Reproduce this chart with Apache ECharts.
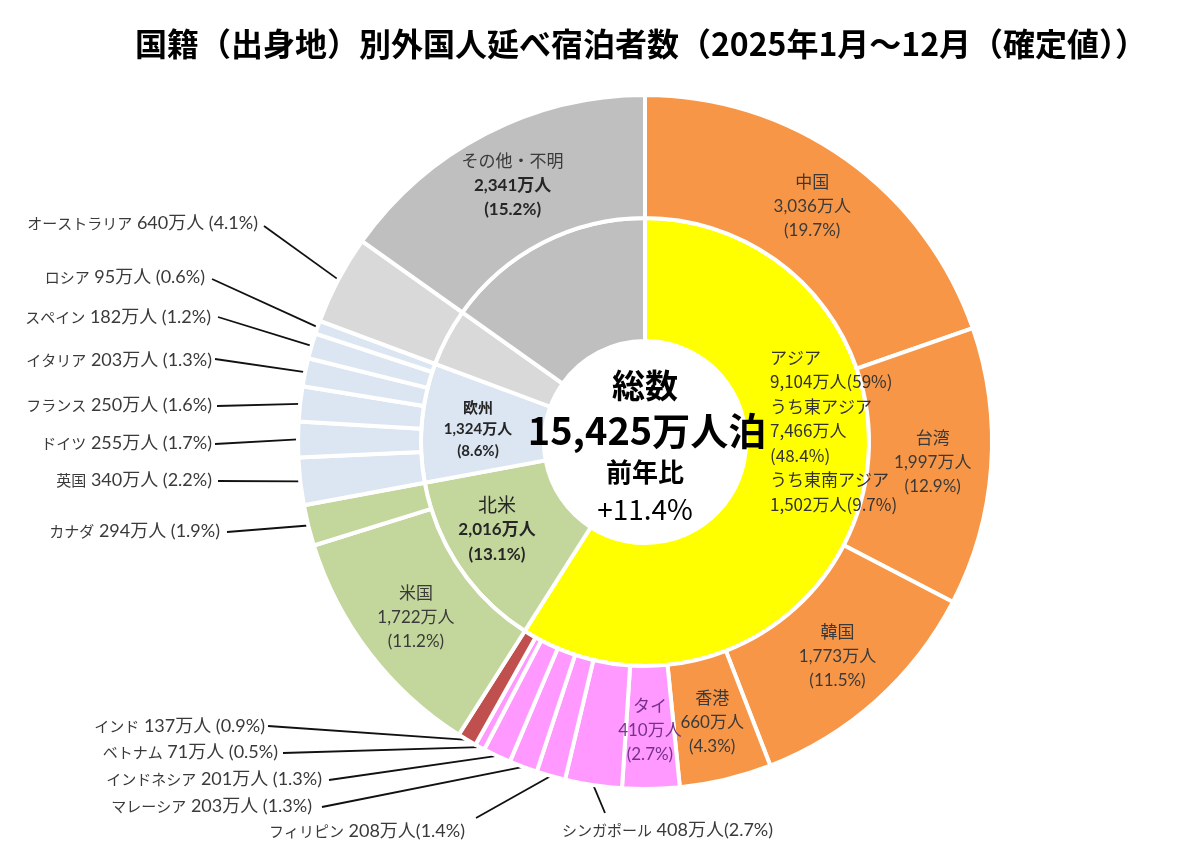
<!DOCTYPE html>
<html>
<head>
<meta charset="utf-8">
<script src="https://cdn.jsdelivr.net/npm/echarts@6/dist/echarts.min.js"></script>
<style>
html,body{margin:0;padding:0;background:#fff;}
#c{width:1178px;height:852px;}
</style>
</head>
<body>
<div id="c"></div>
<script>
// ---------------- DATA ----------------
const titleText = '国籍（出身地）別外国人延べ宿泊者数（2025年1月～12月（確定値））';

const innerNames  = ['アジア', '北米', '欧州', 'オセアニア', 'その他・不明'];
const innerValues = [9104, 2016, 1324, 640, 2341];
const innerPct    = [59, 13.1, 8.6, 4.1, 15.2];

const eastAsiaValue = 7466, eastAsiaPct = 48.4;
const seAsiaValue = 1502, seAsiaPct = 9.7;

const outerNames  = ['中国', '台湾', '韓国', '香港', 'タイ', 'シンガポール', 'フィリピン', 'マレーシア', 'インドネシア', 'ベトナム', 'インド',
                     '米国', 'カナダ', '英国', 'ドイツ', 'フランス', 'イタリア', 'スペイン', 'ロシア', 'オーストラリア', 'その他・不明'];
const outerValues = [3036, 1997, 1773, 660, 410, 408, 208, 203, 201, 71, 137,
                     1722, 294, 340, 255, 250, 203, 182, 95, 640, 2341];
const outerPct    = [19.7, 12.9, 11.5, 4.3, 2.7, 2.7, 1.4, 1.3, 1.3, 0.5, 0.9,
                     11.2, 1.9, 2.2, 1.7, 1.6, 1.3, 1.2, 0.6, 4.1, 15.2];
const outerGroup  = ['東アジア', '東アジア', '東アジア', '東アジア', '東南アジア', '東南アジア', '東南アジア', '東南アジア', '東南アジア', '東南アジア', '南アジア',
                     '北米', '北米', '欧州', '欧州', '欧州', '欧州', '欧州', '欧州', 'オセアニア', 'その他・不明'];

const totalValue = 15425;
const yoyText = '+11.4%';

// ---------------- STYLE / LAYOUT ----------------
const CX = 645, CY = 442;
const R0 = 101, R1 = 224, R2 = 347;
const JP = '"Noto Sans CJK JP", "Noto Sans CJK SC", sans-serif';
const LAT = 'Lato, "Noto Sans CJK JP", sans-serif';

const groupColor = {
  '東アジア': '#F79646', '東南アジア': '#FF99FF', '南アジア': '#C0504D',
  '北米': '#C3D69B', '欧州': '#DCE6F2', 'オセアニア': '#D9D9D9', 'その他・不明': '#BFBFBF'
};
const innerColor = ['#FFFF00', '#C3D69B', '#DCE6F2', '#D9D9D9', '#BFBFBF'];

const insideOuter = new Set(['中国', '台湾', '韓国', '香港', 'タイ', '米国', 'その他・不明']);
const noSpaceBeforePct = new Set(['フィリピン', 'シンガポール']);

// label anchor (x, y), alignment and where the leader line meets the label
const leaderPos = {
  'オーストラリア': {x: 258, y: 223, align: 'right', ex: 6, ey: 3},
  'ロシア':         {x: 205, y: 277, align: 'right', ex: 7, ey: 2},
  'スペイン':       {x: 211, y: 317, align: 'right', ex: 7, ey: 0},
  'イタリア':       {x: 212, y: 360, align: 'right', ex: 3, ey: -1},
  'フランス':       {x: 212, y: 405, align: 'right', ex: 5, ey: 1},
  'ドイツ':         {x: 212, y: 443, align: 'right', ex: 3, ey: 1},
  '英国':           {x: 212, y: 480, align: 'right', ex: 6, ey: 1},
  'カナダ':         {x: 220, y: 531, align: 'right', ex: 7, ey: 1},
  'インド':         {x: 265, y: 726, align: 'right', ex: 3, ey: 0},
  'ベトナム':       {x: 278, y: 752, align: 'right', ex: 5, ey: 1},
  'インドネシア':   {x: 322, y: 779, align: 'right', ex: 7, ey: 1},
  'マレーシア':     {x: 312, y: 806, align: 'right', ex: 10, ey: 1},
  'フィリピン':     {x: 465, y: 831, align: 'right', ex: 11, ey: -13},
  'シンガポール':   {x: 562, y: 830, align: 'left', ex: 43, ey: -17}
};

const fmt = v => v.toLocaleString('en-US');

const outerData = outerNames.map((name, i) => {
  const item = {
    name: name,
    value: outerValues[i],
    itemStyle: {color: groupColor[outerGroup[i]]}
  };
  if (insideOuter.has(name)) {
    let text;
    if (name === 'その他・不明') {
      text = '{a|' + name + '}\n{b|' + fmt(outerValues[i]) + '万人}\n{b|(' + outerPct[i] + '%)}';
    } else {
      text = '{a|' + name + '}\n{a|' + fmt(outerValues[i]) + '万人}\n{a|(' + outerPct[i] + '%)}';
    }
    const col = name === 'タイ' ? '#76308c' : '#3a3a3a';
    item.label = {
      show: true, position: 'inside', rotate: 0, formatter: text,
      rich: {
        a: {fontSize: 17, lineHeight: 24, color: col, fontFamily: LAT, align: 'center'},
        b: {fontSize: 17, lineHeight: 24, color: '#262626', fontFamily: LAT, fontWeight: 'bold', align: 'center'}
      }
    };
  } else {
    const sep = noSpaceBeforePct.has(name) ? '' : ' ';
    item.label = {
      show: true, position: 'outside',
      formatter: '{n|' + name + '}{v| ' + fmt(outerValues[i]) + '万人' + sep + '(' + outerPct[i] + '%)}',
      rich: {
        n: {fontSize: 15, color: '#3a3a3a', fontFamily: JP},
        v: {fontSize: 18, color: '#3a3a3a', fontFamily: LAT}
      }
    };
    item.labelLine = {show: true, length: 5, length2: 5, smooth: false,
      lineStyle: {color: '#111', width: 1.8}};
  }
  return item;
});

const asiaText = [
  innerNames[0],
  fmt(innerValues[0]) + '万人(' + innerPct[0] + '%)',
  'うち東アジア',
  fmt(eastAsiaValue) + '万人',
  '(' + eastAsiaPct + '%)',
  'うち東南アジア',
  fmt(seAsiaValue) + '万人(' + seAsiaPct + '%)'
].join('\n');

const innerData = innerNames.map((name, i) => {
  const item = {name: name, value: innerValues[i], itemStyle: {color: innerColor[i]}};
  if (name === 'アジア') {
    item.label = {show: true, position: 'inside', rotate: 0, formatter: asiaText,
      fontSize: 17, lineHeight: 24.5, color: '#333', fontFamily: JP, align: 'left'};
  } else if (name === '北米') {
    item.label = {show: true, position: 'inside', rotate: 0,
      formatter: '{h|' + name + '}\n{b|' + fmt(innerValues[i]) + '万人}\n{b|(' + innerPct[i] + '%)}',
      rich: {
        h: {fontSize: 19, lineHeight: 25, color: '#262626', fontFamily: JP, align: 'center'},
        b: {fontSize: 17, lineHeight: 25, color: '#262626', fontFamily: LAT, fontWeight: 'bold', align: 'center'}
      }};
  } else if (name === '欧州') {
    item.label = {show: true, position: 'inside', rotate: 0,
      formatter: '{h|' + name + '}\n{b|' + fmt(innerValues[i]) + '万人}\n{b|(' + innerPct[i] + '%)}',
      rich: {
        h: {fontSize: 15, lineHeight: 22, color: '#262626', fontFamily: JP, fontWeight: 'bold', align: 'center'},
        b: {fontSize: 15, lineHeight: 22, color: '#262626', fontFamily: LAT, fontWeight: 'bold', align: 'center'}
      }};
  } else {
    item.label = {show: false};
  }
  return item;
});

const chart = echarts.init(document.getElementById('c'), null, {renderer: 'canvas'});

chart.setOption({
  backgroundColor: '#ffffff',
  animation: false,
  graphic: [
    {type: 'text', x: 641, y: 44, style: {text: titleText, fontSize: 32, fontWeight: 'bold', fontFamily: JP, fill: '#000', align: 'center', verticalAlign: 'middle'}},
    {type: 'text', x: CX, y: 385, z: 100, style: {text: '総数', fontSize: 33, fontWeight: 'bold', fontFamily: JP, fill: '#000', align: 'center', verticalAlign: 'middle'}},
    {type: 'text', x: CX + 2, y: 431, z: 100, style: {text: fmt(totalValue) + '万人泊', fontSize: 38, fontWeight: 'bold', fontFamily: JP, fill: '#000', align: 'center', verticalAlign: 'middle'}},
    {type: 'text', x: CX, y: 472, z: 100, style: {text: '前年比', fontSize: 26, fontWeight: 'bold', fontFamily: JP, fill: '#000', align: 'center', verticalAlign: 'middle'}},
    {type: 'text', x: CX, y: 509, z: 100, style: {text: yoyText, fontSize: 28, fontWeight: 'normal', fontFamily: JP, fill: '#000', align: 'center', verticalAlign: 'middle'}}
  ],
  series: [
    {
      type: 'pie',
      name: '地域',
      center: [CX, CY],
      radius: [R0, R1],
      startAngle: 90,
      clockwise: true,
      avoidLabelOverlap: false,
      emphasis: {disabled: true},
      itemStyle: {borderColor: '#ffffff', borderWidth: 4},
      labelLine: {show: false},
      data: innerData,
      labelLayout: function (p) {
        const name = innerNames[p.dataIndex];
        if (name === 'アジア') return {x: 770, y: 431, align: 'left', verticalAlign: 'middle'};
        if (name === '北米') return {x: 497, y: 530, align: 'center', verticalAlign: 'middle'};
        if (name === '欧州') return {x: 478, y: 429, align: 'center', verticalAlign: 'middle'};
        return {};
      }
    },
    {
      type: 'pie',
      name: '国籍',
      center: [CX, CY],
      radius: [R1, R2],
      startAngle: 90,
      clockwise: true,
      avoidLabelOverlap: false,
      emphasis: {disabled: true},
      itemStyle: {borderColor: '#ffffff', borderWidth: 4},
      data: outerData,
      labelLayout: function (p) {
        const name = outerNames[p.dataIndex];
        const pos = leaderPos[name];
        if (!pos) return {};
        let a = p.labelLinePoints && p.labelLinePoints[0];
        if (!a) {
          let cum = 0;
          for (let k = 0; k < p.dataIndex; k++) cum += outerValues[k];
          const tot = outerValues.reduce((s, v) => s + v, 0);
          const ang = (cum + outerValues[p.dataIndex] / 2) / tot * Math.PI * 2;
          a = [CX + R2 * Math.sin(ang), CY - R2 * Math.cos(ang)];
        }
        const e = [pos.x + pos.ex, pos.y + pos.ey];
        return {
          x: pos.x, y: pos.y, align: pos.align, verticalAlign: 'middle',
          labelLinePoints: [a, a, e]
        };
      }
    }
  ]
});
</script>
</body>
</html>
